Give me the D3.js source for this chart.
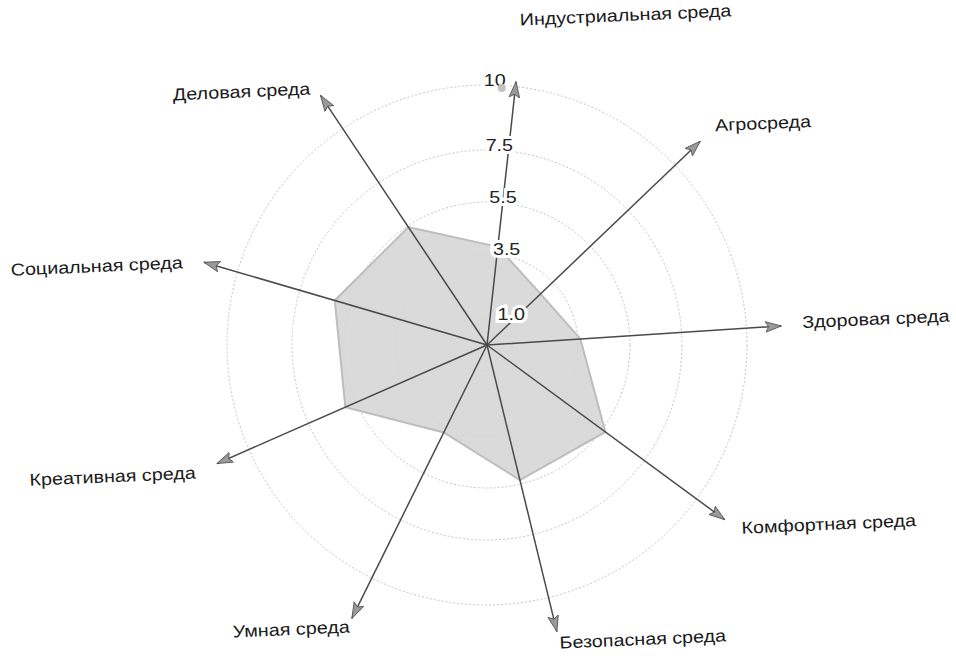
<!DOCTYPE html>
<html lang="ru">
<head>
<meta charset="UTF-8">
<title>Среды</title>
<script src="https://d3js.org/d3.v7.min.js"></script>
<style>
  body, html { margin: 0; padding: 0; background: #fff; }
  svg { display: block; font-family: "Liberation Sans", Arial, sans-serif; }
</style>
</head>
<body>
<svg width="956" height="663"></svg>
<script>
// данные
const categories = ["Индустриальная среда", "Агросреда", "Здоровая среда", "Комфортная среда",
                    "Безопасная среда", "Умная среда", "Креативная среда", "Социальная среда", "Деловая среда"];
const values = [3.8, 2.85, 3.6, 5.65, 5.35, 3.75, 5.95, 6.1, 5.45];
const ringValues = [1.0, 3.5, 5.5, 7.5, 10];
const ringLabels = ["1.0", "3.5", "5.5", "7.5", "10"];

// разметка
const cx = 487, cy = 345, R = 260;
const startDeg = 6.3;
const arrowLen = [265, 295, 295, 295, 295, 305, 295, 295, 300];
// смещения подписей от конца стрелки: [dx, dy, anchor]
const labelOff = [[4, -56, "start"], [15, -10, "start"], [21, 2, "start"], [17, 14, "start"],
                  [3, 17, "start"], [-2, 14, "end"], [-21, 15, "end"], [-21, 6, "end"], [-10, -1, "end"]];
const textTilt = -2.5, textStretch = 1.16;

const svg = d3.select("svg");
const g = svg.append("g").attr("transform", `translate(${cx},${cy})`);

const n = categories.length;
const r = d3.scaleLinear().domain([0, 10]).range([0, R]);
const angle = d3.scaleLinear().domain([0, n])
  .range([startDeg * Math.PI / 180, startDeg * Math.PI / 180 + 2 * Math.PI]);
const pt = (i, rad) => [rad * Math.sin(angle(i)), -rad * Math.cos(angle(i))];

// стрелка
svg.append("defs").append("marker")
  .attr("id", "arrow")
  .attr("viewBox", "0 0 16 12")
  .attr("refX", 15).attr("refY", 6)
  .attr("markerWidth", 17).attr("markerHeight", 13)
  .attr("markerUnits", "userSpaceOnUse")
  .attr("orient", "auto")
  .append("path")
  .attr("d", "M0,1 L15,6 L0,11 L3,6 Z")
  .attr("fill", "#9a9a9a")
  .attr("stroke", "#555")
  .attr("stroke-width", 0.8);

// круги шкалы
g.selectAll("circle.ring")
  .data(ringValues)
  .enter().append("circle")
  .attr("class", "ring")
  .attr("r", d => r(d))
  .attr("fill", "none")
  .attr("stroke", "#c4c4c4")
  .attr("stroke-width", 1)
  .attr("stroke-dasharray", "2,2");

// многоугольник значений
const radial = d3.lineRadial()
  .angle((d, i) => angle(i))
  .radius(d => r(d))
  .curve(d3.curveLinearClosed);

g.append("path")
  .datum(values)
  .attr("d", radial)
  .attr("fill", "#d6d6d6")
  .attr("fill-opacity", 0.9)
  .attr("stroke", "#bdbdbd")
  .attr("stroke-width", 2);

// оси
g.selectAll("line.axis")
  .data(categories)
  .enter().append("line")
  .attr("class", "axis")
  .attr("x1", 0).attr("y1", 0)
  .attr("x2", (d, i) => pt(i, arrowLen[i])[0])
  .attr("y2", (d, i) => pt(i, arrowLen[i])[1])
  .attr("stroke", "#4a4a4a")
  .attr("stroke-width", 1.5)
  .attr("marker-end", "url(#arrow)");

// подписи осей
g.selectAll("text.cat")
  .data(categories)
  .enter().append("text")
  .attr("class", "cat")
  .attr("transform", (d, i) => {
    const p = pt(i, arrowLen[i]);
    return `translate(${p[0] + labelOff[i][0]},${p[1] + labelOff[i][1]}) rotate(${textTilt}) scale(${textStretch},1)`;
  })
  .attr("text-anchor", (d, i) => labelOff[i][2])
  .attr("font-size", 17)
  .attr("fill", "#1a1a1a")
  .text(d => d);

// подписи шкалы
g.selectAll("text.tick")
  .data(ringValues)
  .enter().append("text")
  .attr("class", "tick")
  .attr("transform", d => `translate(${26 - 0.07 * r(d)},${-r(d) - 3}) scale(${textStretch},1)`)
  .attr("text-anchor", "middle")
  .attr("dominant-baseline", "middle")
  .attr("font-size", 17)
  .attr("fill", "#222")
  .attr("stroke", "#fff")
  .attr("stroke-width", 6)
  .attr("paint-order", "stroke")
  .text((d, i) => ringLabels[i]);

// точка у отметки 10
g.append("circle")
  .attr("cx", 26 - 0.07 * r(10) + 7)
  .attr("cy", -r(10) + 3)
  .attr("r", 4)
  .attr("fill", "#c2c2c2");
</script>
</body>
</html>
